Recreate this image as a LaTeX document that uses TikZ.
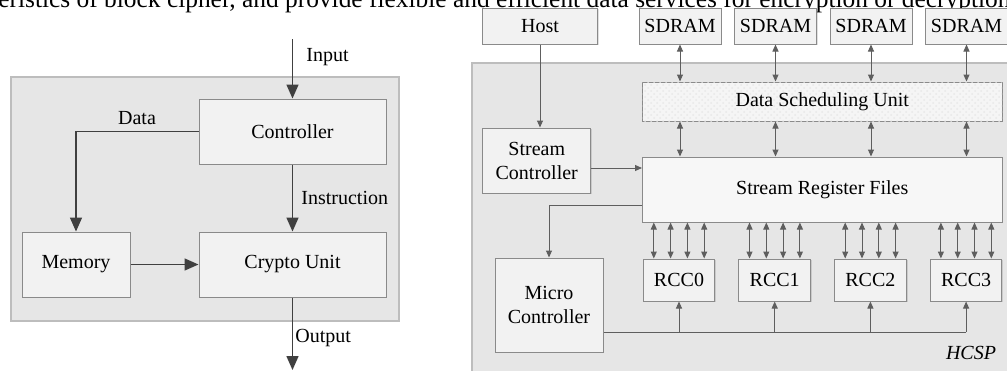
\documentclass[tikz,border=0pt]{standalone}
\usepackage{fontspec}
\setmainfont{Liberation Serif}
\usetikzlibrary{arrows.meta,patterns,shadows}
\definecolor{panelgray}{HTML}{E6E6E6}
\definecolor{panelline}{HTML}{BDBDBD}
\definecolor{boxfill}{HTML}{F2F2F2}
\definecolor{boxline}{HTML}{8A8A8A}
\definecolor{arrowgray}{HTML}{404040}
\definecolor{wiregray}{HTML}{5E5E5E}

\begin{document}
\begin{tikzpicture}[x=0.5pt, y=-0.5pt,
  every node/.style={font=\fontsize{10}{12}\selectfont, inner sep=0pt},
  blk/.style={draw=boxline, fill=boxfill, line width=0.5pt, align=center,
    drop shadow={shadow xshift=0.7pt, shadow yshift=-0.7pt, fill=black, opacity=0.12}},
  panel/.style={draw=panelline, fill=panelgray, line width=0.6pt},
  bigarr/.style={draw=arrowgray, line width=0.75pt, -{Triangle[length=7pt,width=6pt]}},
  wire/.style={draw=wiregray, line width=0.5pt},
  onearr/.style={wire, -{Triangle[length=3.5pt,width=3pt]}},
  twoarr/.style={wire, {Triangle[length=3.5pt,width=3pt]}-{Triangle[length=3.5pt,width=3pt]}},
]
\clip (0,0) rectangle (1007,370);
\node[anchor=base west, font=\fontsize{12.7}{14}\selectfont] (pagetext) at (-2,7) {eristics of block cipher, and provide flexible and efficient data services for encryption or decryption};

\draw[panel] (11,77) rectangle (399,321);
\node[blk, minimum width=93.5pt, minimum height=32.5pt] (ctrl) at (292.5,131.5) {Controller};
\node[blk, minimum width=93.5pt, minimum height=32.5pt] (crypto) at (292.5,264.5) {Crypto Unit};
\node[blk, minimum width=54pt, minimum height=32.5pt] (mem) at (76,264.5) {Memory};
\coordinate (in) at (292.5,39);
\coordinate (out) at (292.5,370);
\draw[bigarr] (in) -- (ctrl);
\draw[bigarr] (ctrl) -- (crypto);
\draw[bigarr] (ctrl.west) -| (mem.north);
\draw[bigarr] (mem) -- (crypto);
\draw[bigarr] (crypto) -- (out);
\node[anchor=west] (inlbl) at (306,57) {Input};
\node[anchor=west] (instlbl) at (301,198) {Instruction};
\node (datalbl) at (137,118) {Data};
\node[anchor=west] (outlbl) at (295,338) {Output};

\draw[panel] (472,63) rectangle (1020,385);
\node[blk, minimum width=57.5pt, minimum height=18pt] (host) at (540,26) {Host};
\foreach \i in {1,...,4}
  \node[blk, minimum width=41pt, minimum height=18pt] (sd\i) at ({680+95.5*(\i-1)},26) {SDRAM};
\node[blk, minimum width=179.75pt, minimum height=19.5pt, fill=white!96!black,
  postaction={pattern=crosshatch dots, pattern color=black!9}] (dsu) at (822.25,101.5) {Data Scheduling Unit};
\node[blk, minimum width=179.75pt, minimum height=32.5pt, fill=white!97!black] (srf) at (822.25,189.5) {Stream Register Files};
\node[blk, minimum width=54pt, minimum height=32.5pt] (sc) at (536.75,160.5) {Stream\\Controller};
\node[blk, minimum width=54pt, minimum height=47pt] (mc) at (549,305) {Micro\\Controller};
\foreach \i [count=\n from 0] in {1,...,4}
  \node[blk, minimum width=35.75pt, minimum height=21pt] (rcc\i) at ({679+95.7*(\i-1)},280) {RCC\n};
\node[font=\fontsize{10}{12}\selectfont\itshape] (hcsp) at (971,353) {HCSP};

\draw[onearr] (host.south) -- (host.south |- sc.north);
\draw[onearr] (sc.east |- 0,168) -- (srf.west |- 0,168);
\draw[onearr] (srf.west |- 0,205) -| (mc.north);
\foreach \i in {1,...,4} {
  \draw[twoarr] (sd\i.south) -- (sd\i.south |- dsu.north);
  \draw[twoarr] (sd\i.south |- dsu.south) -- (sd\i.south |- srf.north);
  \foreach \k in {-3,-1,1,3}
    \draw[twoarr] ([xshift=\k*4.2pt]rcc\i.north |- srf.south) -- ([xshift=\k*4.2pt]rcc\i.north);
}
\coordinate (bus) at (mc.east |- 0,332);
\draw[wire] (bus) -- (bus -| rcc4.south);
\foreach \i in {1,...,4}
  \draw[onearr] (bus -| rcc\i.south) -- (rcc\i.south);
\end{tikzpicture}
\end{document}
